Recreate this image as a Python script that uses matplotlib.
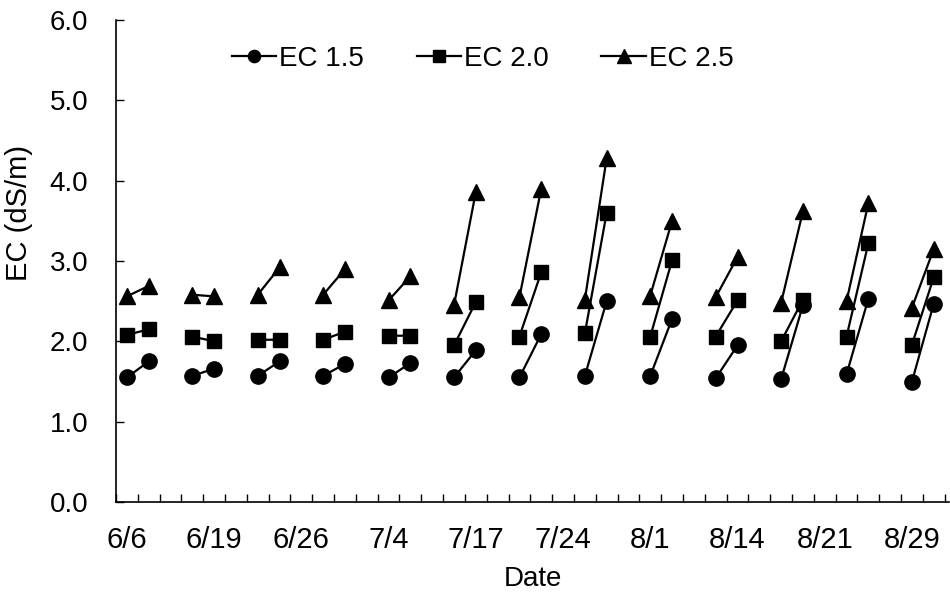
import numpy as np
import matplotlib
matplotlib.use("Agg")
import matplotlib.pyplot as plt
from matplotlib.ticker import FixedLocator, FormatStrFormatter

plt.rcParams["font.family"] = ["Liberation Sans", "DejaVu Sans"]

# Tick labels along the category axis (every fourth category is labelled)
date_labels = ["6/6", "6/19", "6/26", "7/4", "7/17", "7/24", "8/1", "8/14", "8/21", "8/29"]
n_categories = 38

# EC readings per interval: value at the start and at the end of each interval
ec15_start = [1.55, 1.57, 1.57, 1.57, 1.55, 1.55, 1.55, 1.57, 1.57, 1.54, 1.53, 1.59, 1.50]
ec15_end   = [1.75, 1.66, 1.75, 1.72, 1.73, 1.89, 2.09, 2.50, 2.28, 1.95, 2.45, 2.53, 2.47]
ec20_start = [2.08, 2.06, 2.02, 2.02, 2.07, 1.95, 2.06, 2.10, 2.06, 2.06, 2.00, 2.06, 1.96]
ec20_end   = [2.15, 2.00, 2.02, 2.12, 2.07, 2.49, 2.86, 3.60, 3.01, 2.51, 2.52, 3.22, 2.80]
ec25_start = [2.56, 2.58, 2.58, 2.58, 2.51, 2.45, 2.55, 2.52, 2.57, 2.55, 2.48, 2.50, 2.42]
ec25_end   = [2.69, 2.56, 2.92, 2.90, 2.81, 3.86, 3.90, 4.28, 3.50, 3.05, 3.62, 3.72, 3.15]


def paired_series(start, end):
    """Category positions and values, each start/end pair followed by a gap."""
    xs, ys = [], []
    for i, (a, b) in enumerate(zip(start, end)):
        xs += [3 * i, 3 * i + 1, 3 * i + 2]
        ys += [a, b, np.nan]
    return np.array(xs[:-1], dtype=float), np.array(ys[:-1], dtype=float)


fig = plt.figure(figsize=(9.5, 5.96), dpi=100)
ax = fig.add_axes([0.1221, 0.1577, 0.8769, 0.8087])

series = [
    ("EC 1.5", ec15_start, ec15_end, "o", 11),
    ("EC 2.0", ec20_start, ec20_end, "s", 10),
    ("EC 2.5", ec25_start, ec25_end, "^", 12),
]
handles = []
for label, s, e, marker, ms in series:
    x, y = paired_series(s, e)
    (h,) = ax.plot(x, y, color="black", lw=1.6, marker=marker, ms=ms,
                   markerfacecolor="black", markeredgecolor="black", label=label)
    handles.append(h)

ax.set_xlim(-0.5, n_categories - 0.3)
ax.set_ylim(0, 6)

# y axis
ax.set_yticks(np.arange(0, 7, 1))
ax.yaxis.set_major_formatter(FormatStrFormatter("%.1f"))
ax.tick_params(axis="y", direction="in", length=6, width=1.0, pad=20,
               labelsize=20)

# x axis: labels on every fourth category, tick marks between categories
ax.set_xticks(np.arange(0, 4 * len(date_labels), 4))
ax.set_xticklabels(date_labels)
ax.xaxis.set_minor_locator(FixedLocator(np.arange(-0.5, n_categories, 1.0)))
ax.tick_params(axis="x", which="major", length=0, pad=17, labelsize=21)
ax.tick_params(axis="x", which="minor", direction="in", length=6, width=1.0)

for side in ("top", "right"):
    ax.spines[side].set_visible(False)
for side in ("left", "bottom"):
    ax.spines[side].set_linewidth(1.2)

ax.set_xlabel("Date", fontsize=20, labelpad=9)
ax.set_ylabel("EC (dS/m)", fontsize=21)
ax.yaxis.set_label_coords(-0.10, 0.60)

leg = ax.legend(handles=handles, ncol=3, frameon=False, fontsize=20,
                loc="center", bbox_to_anchor=(0.44, 0.92),
                handlelength=1.6, handletextpad=0.1, columnspacing=1.9,
                markerscale=0.8)

fig.savefig("out.png", dpi=100)
